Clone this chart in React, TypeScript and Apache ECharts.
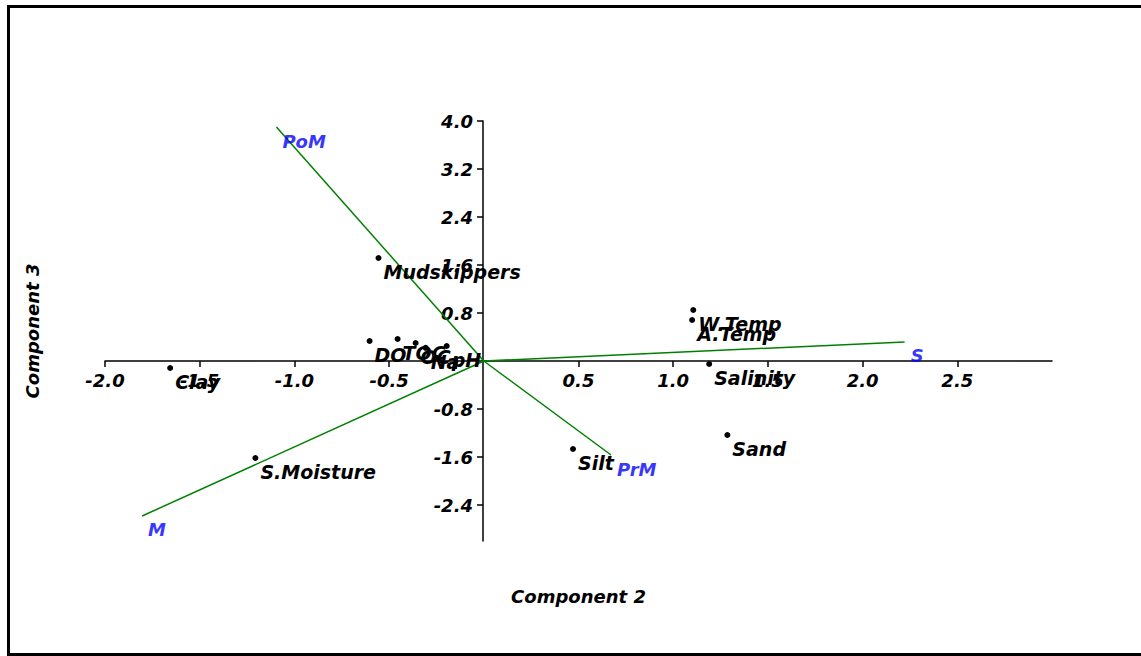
import React, { useEffect, useRef } from "react";
import * as echarts from "echarts";

// Variables (scores) on Component 2 / Component 3
const varNames = ["Mudskippers", "W.Temp", "A.Temp", "Salinity", "Sand", "Silt", "S.Moisture", "Clay", "DO", "TOC", "OC", "Na", "pH"];
const comp2 = [-0.556, 1.106, 1.1, 1.19, 1.286, 0.471, -1.206, -1.656, -0.603, -0.455, -0.36, -0.307, -0.196];
const comp3 = [1.717, 0.85, 0.683, -0.05, -1.233, -1.467, -1.617, -0.117, 0.333, 0.367, 0.3, 0.22, 0.25];

// Season vectors
const vecNames = ["PoM", "S", "M", "PrM"];
const vecX = [-1.095, 2.222, -1.804, 0.672];
const vecY = [3.9, 0.317, -2.583, -1.567];

// Tick labels
const xTicks = [-2, -1.5, -1, -0.5, 0.5, 1, 1.5, 2, 2.5];
const yTicks = [-2.4, -1.6, -0.8, 0.8, 1.6, 2.4, 3.2, 4.0];

const FONT = "DejaVu Sans";

export default function App() {
  const ref = useRef<HTMLDivElement>(null);
  useEffect(() => {
    if (!ref.current) return;
    const chart = echarts.init(ref.current, undefined, { renderer: "svg" });
    const labelStyle = {
      fontFamily: FONT,
      fontWeight: "bold" as const,
      fontStyle: "italic" as const,
    };
    const vectorSeries = vecNames.map((n, i) => ({
      type: "line",
      name: n,
      data: [
        [0, 0],
        [vecX[i], vecY[i]],
      ],
      showSymbol: false,
      symbol: "none",
      lineStyle: { color: "#008000", width: 1.5 },
      silent: true,
      z: 3,
    }));
    chart.setOption({
      animation: false,
      grid: { left: 105, right: 89, top: 121, bottom: 115, containLabel: false, outerBoundsMode: "none" },
      xAxis: {
        type: "value",
        min: -2,
        max: 3,
        offset: -180,
        name: "Component 2",
        nameLocation: "middle",
        nameGap: 226,
        nameTextStyle: { ...labelStyle, fontSize: 18, color: "#000" },
        axisLine: { onZero: false, lineStyle: { color: "#000", width: 1.5 } },
        axisTick: { show: true, length: 6, customValues: xTicks, lineStyle: { color: "#000", width: 1.5 } },
        axisLabel: {
          customValues: xTicks,
          formatter: (v: number) => v.toFixed(1),
          ...labelStyle,
          fontSize: 18,
          color: "#000",
          margin: 10,
        },
        splitLine: { show: false },
      },
      yAxis: {
        type: "value",
        min: -3,
        max: 4,
        offset: -378,
        name: "Component 3",
        nameLocation: "middle",
        nameGap: 442,
        nameRotate: 90,
        nameTextStyle: { ...labelStyle, fontSize: 18, color: "#000" },
        axisLine: { onZero: false, lineStyle: { color: "#000", width: 1.5 } },
        axisTick: { show: true, length: 6, customValues: yTicks, lineStyle: { color: "#000", width: 1.5 } },
        axisLabel: {
          customValues: yTicks,
          formatter: (v: number) => v.toFixed(1),
          ...labelStyle,
          fontSize: 18,
          color: "#000",
          margin: 10,
        },
        splitLine: { show: false },
      },
      graphic: [
        {
          type: "rect",
          shape: { x: 8.5, y: 6.5, width: 1200, height: 648 },
          style: { fill: "none", stroke: "#000", lineWidth: 3 },
          silent: true,
        },
      ],
      series: [
        ...vectorSeries,
        {
          type: "scatter",
          name: "vectors",
          data: vecNames.map((n, i) => ({ name: n, value: [vecX[i], vecY[i]] })),
          symbolSize: 0,
          label: {
            show: true,
            position: "right",
            distance: 6,
            offset: [0, 14],
            formatter: (p: any) => p.name,
            ...labelStyle,
            fontSize: 18,
            color: "#0000FF",
          },
          z: 4,
        },
        {
          type: "scatter",
          name: "variables",
          data: varNames.map((n, i) => ({ name: n, value: [comp2[i], comp3[i]] })),
          symbol: "circle",
          symbolSize: 6,
          itemStyle: { color: "#000", opacity: 1 },
          label: {
            show: true,
            position: "right",
            distance: 2,
            offset: [0, 14],
            formatter: (p: any) => p.name,
            ...labelStyle,
            fontSize: 19,
            color: "#000",
          },
          z: 5,
        },
      ],
    });
    return () => chart.dispose();
  }, []);
  return (
    <div
      ref={ref}
      style={{ position: "fixed", left: 0, top: 0, width: 1141, height: 656, background: "#fff" }}
    />
  );
}
